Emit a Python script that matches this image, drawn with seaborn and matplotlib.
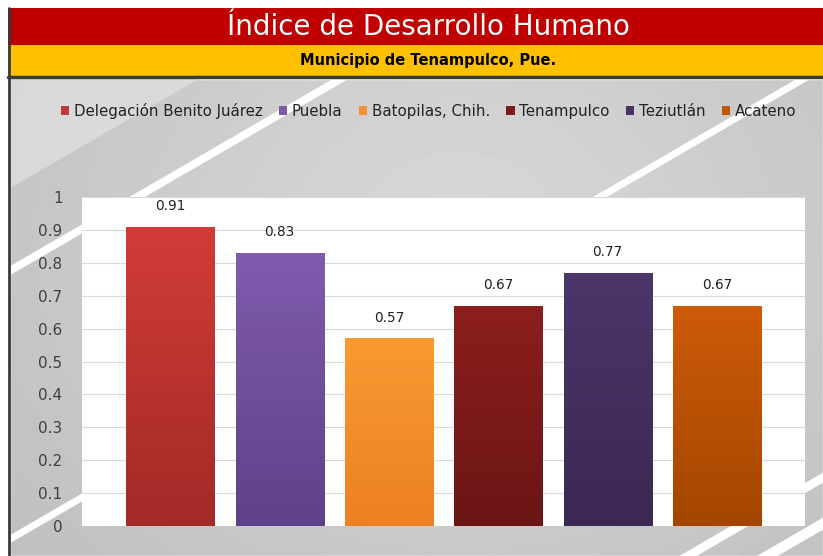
import numpy as np
import pandas as pd
import matplotlib
matplotlib.use("Agg")
import matplotlib.pyplot as plt
from matplotlib.colors import to_rgba
from matplotlib.patches import Rectangle, Polygon, Patch
import seaborn as sns

# Data
municipios = ["Delegación Benito Juárez", "Puebla", "Batopilas, Chih.",
              "Tenampulco", "Teziutlán", "Acateno"]
idh = [0.91, 0.83, 0.57, 0.67, 0.77, 0.67]
etiquetas = ["0.91", "0.83", "0.57", "0.67", "0.77", "0.67"]
yticks = [0, 0.1, 0.2, 0.3, 0.4, 0.5, 0.6, 0.7, 0.8, 0.9, 1]
ytick_labels = ["0", "0.1", "0.2", "0.3", "0.4", "0.5", "0.6", "0.7", "0.8", "0.9", "1"]

titulo = "Índice de Desarrollo Humano"
subtitulo = "Municipio de Tenampulco, Pue."

# bar colours (top, bottom of gradient) and flat legend colour
top_cols = ["#d23c38", "#7f5bad", "#f99a32", "#8c1e1e", "#4c356a", "#cd5b09"]
bot_cols = ["#a22a27", "#5f4189", "#ec8022", "#6b1515", "#3b2853", "#a44600"]
leg_cols = ["#c0393a", "#7a5aa8", "#f39030", "#7e1c1c", "#47325f", "#c25408"]

df = pd.DataFrame({"municipio": municipios, "idh": idh})

sns.set_theme(style="white")
plt.rcParams["font.family"] = ["DejaVu Sans"]

W, H = 823, 556
fig = plt.figure(figsize=(W / 100, H / 100), dpi=100)
fig.patch.set_facecolor("white")

# ---- background decoration (pixel coordinates) ----
bg = fig.add_axes([0, 0, 1, 1], zorder=-5)
bg.set_xlim(0, W)
bg.set_ylim(H, 0)
bg.axis("off")

# gray gradient content area
yy, xx = np.mgrid[0:120, 0:200]
d = np.sqrt(((xx - 110) / 130.0) ** 2 + ((yy - 40) / 110.0) ** 2)
shade = np.clip(0.85 - 0.09 * d, 0.72, 0.86)
cont = Rectangle((10, 79), W - 10, H - 79, transform=bg.transData, facecolor="none")
bg.add_patch(cont)
img = bg.imshow(shade, cmap="gray", vmin=0, vmax=1, extent=[10, W, H, 79],
                aspect="auto", interpolation="bicubic", zorder=0)
img.set_clip_path(cont)

slope = 0.58


def streak(b, t, color="white", alpha=1.0):
    pts = [(0, b), (W, b - slope * W), (W, b - slope * W + t), (0, b + t)]
    p = Polygon(pts, closed=True, facecolor=color, edgecolor="none", alpha=alpha, zorder=1)
    bg.add_patch(p)
    p.set_clip_path(cont)


# soft light region upper left
light = Polygon([(0, 79), (0, 194), (200, 194 - slope * 200), (200, 79)],
                facecolor="#e2e2e2", edgecolor="none", alpha=0.7, zorder=1)
bg.add_patch(light)
light.set_clip_path(cont)
streak(272, 9)
streak(541, 8)
streak(950, 10)
streak(995, 12)

# title bands
bg.add_patch(Rectangle((8, 8), W - 8, 37, facecolor="#c00000", edgecolor="none", zorder=2))
bg.add_patch(Rectangle((8, 45), W - 8, 31, facecolor="#ffc000", edgecolor="none", zorder=2))
bg.plot([8, W], [77, 77], color="#3a3a3a", lw=2.5, zorder=3)
bg.plot([9, 9], [8, H], color="#3a3a3a", lw=2, zorder=3)
bg.text(428, 27, titulo, color="white", fontsize=20, ha="center", va="center", zorder=4)
bg.text(428, 61, subtitulo, color="black", fontsize=10.5, fontweight="bold",
        ha="center", va="center", zorder=4)

# ---- chart ----
ax = fig.add_axes([82 / W, 1 - 526 / H, (805 - 82) / W, (526 - 197) / H])
ax.set_facecolor("white")
sns.barplot(data=df, x="municipio", y="idh", hue="municipio", palette=leg_cols,
            width=0.806, legend=False, ax=ax, saturation=1)

# vertical gradient inside each bar
for i, patch in enumerate(ax.patches):
    x0, y0 = patch.get_x(), patch.get_y()
    w, h = patch.get_width(), patch.get_height()
    c1 = np.array(to_rgba(bot_cols[i]))
    c2 = np.array(to_rgba(top_cols[i]))
    t = np.linspace(0, 1, 64)[:, None]
    grad = (c1 * (1 - t) + c2 * t)[:, None, :]
    im = ax.imshow(grad, extent=[x0, x0 + w, y0, y0 + h], origin="lower",
                   aspect="auto", zorder=patch.get_zorder() + 0.1)
    im.set_clip_path(patch)

for cont_, lab in zip(ax.containers, etiquetas):
    ax.bar_label(cont_, labels=[lab], padding=10, fontsize=9.8, color="#222222")

ax.set_xlim(-0.809, 5.806)
ax.set_ylim(0, 1)
ax.set_yticks(yticks)
ax.set_yticklabels(ytick_labels)
ax.tick_params(axis="y", length=0, pad=14, labelsize=11, labelcolor="#404040")
ax.set_xticks([])
ax.set_xlabel("")
ax.set_ylabel("")
ax.grid(axis="y", color="#d9d9d9", lw=0.8)
ax.set_axisbelow(True)
sns.despine(ax=ax, left=True, bottom=True)

handles = [Patch(facecolor=c, edgecolor="none") for c in leg_cols]
fig.legend(handles, municipios, loc="center", bbox_to_anchor=(428.5 / W, 1 - 111 / H),
           ncol=6, frameon=False, fontsize=10.8, handlelength=0.55, handleheight=0.55,
           handletextpad=0.3, columnspacing=1.1, labelcolor="#222222")

fig.savefig("out.png", dpi=100)
